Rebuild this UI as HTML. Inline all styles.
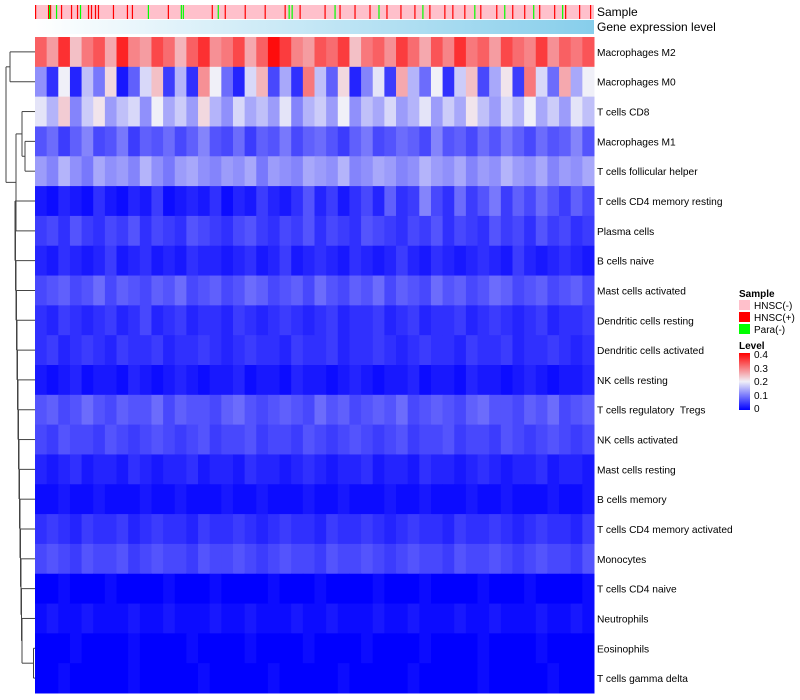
<!DOCTYPE html>
<html><head><meta charset="utf-8"><style>
body{margin:0;background:#fff;width:800px;height:700px;overflow:hidden}
svg{display:block;font-family:"Liberation Sans",sans-serif}
</style></head><body>
<svg id="chart" width="800" height="700">
<defs><linearGradient id="geg" x1="0" x2="1" y1="0" y2="0"><stop offset="0" stop-color="#ffffff"/><stop offset="1" stop-color="#87ceeb"/></linearGradient>
<linearGradient id="lvl" x1="0" x2="0" y1="1" y2="0"><stop offset="0" stop-color="#0000ff"/><stop offset="0.5" stop-color="#f0f0f8"/><stop offset="1" stop-color="#ff0000"/></linearGradient></defs>
<g id="anno"></g><g id="cells"></g><g id="dendro"></g><g id="labels"></g>
<g font-size="10">
<text x="739" y="297" font-weight="bold">Sample</text>
<rect x="739" y="300" width="11" height="10" fill="#ffc0cb"/><text x="754" y="309">HNSC(-)</text>
<rect x="739" y="312" width="11" height="10" fill="#ff0000"/><text x="754" y="321">HNSC(+)</text>
<rect x="739" y="324" width="11" height="10" fill="#00ff00"/><text x="754" y="333">Para(-)</text>
<text x="739" y="349" font-weight="bold">Level</text>
<rect x="739" y="353" width="11" height="57" fill="url(#lvl)"/>
<text x="754" y="358">0.4</text>
<text x="754" y="372">0.3</text>
<text x="754" y="385">0.2</text>
<text x="754" y="399">0.1</text>
<text x="754" y="412">0</text>
</g>
<text x="597" y="16" font-size="12">Sample</text>
<text x="597" y="31" font-size="12">Gene expression level</text>
</svg>
<script>
const rowNames=["Macrophages M2","Macrophages M0","T cells CD8","Macrophages M1","T cells follicular helper","T cells CD4 memory resting","Plasma cells","B cells naive","Mast cells activated","Dendritic cells resting","Dendritic cells activated","NK cells resting","T cells regulatory  Tregs","NK cells activated","Mast cells resting","B cells memory","T cells CD4 memory activated","Monocytes","T cells CD4 naive","Neutrophils","Eosinophils","T cells gamma delta"];
// values in hundredths (0..40)
const r0=[32,27,36,24,30,33,26,37,29,27,34,31,25,32,36,28,30,34,26,32,39,35,29,27,33,31,35,24,30,32,28,35,31,26,33,29,36,30,32,27,34,31,29,35,28,32,30,33];
const r1=[12,4,20,3,16,10,22,2,8,18,24,5,15,4,28,20,9,3,18,25,6,14,4,30,16,8,22,3,11,19,5,26,15,9,20,4,17,24,6,14,21,5,30,18,9,26,14,20];
const r2=[19,15,23,11,17,21,13,16,18,12,20,14,17,13,22,15,12,18,14,16,13,19,11,15,17,13,20,12,16,14,18,13,15,19,13,17,14,21,16,13,18,15,20,14,17,13,19,16];
const r3=[7,9,5,8,11,6,7,10,5,8,7,9,6,8,11,7,6,9,5,8,7,10,6,8,9,7,5,8,10,6,7,9,8,6,11,7,8,6,9,7,10,8,6,9,7,8,11,7];
const r4=[13,11,15,12,10,14,12,13,11,15,12,10,13,14,12,11,13,12,14,10,13,12,11,14,13,12,15,11,12,14,13,11,12,15,13,12,14,11,13,12,15,13,12,14,11,13,12,14];
const r5=[2,1,3,2,1,4,2,1,3,2,5,1,2,3,2,4,1,3,2,5,3,2,4,7,3,5,2,4,6,3,8,4,5,11,6,4,9,5,7,10,5,8,6,9,7,5,8,6];
const r6=[5,6,4,7,5,4,6,5,7,4,6,5,4,7,6,5,4,6,7,5,4,6,5,7,4,6,5,4,7,6,5,4,6,5,7,4,6,5,4,7,5,6,4,7,5,6,4,5];
const r7=[3,2,4,3,2,3,5,2,3,4,2,3,2,4,3,3,2,3,4,2,3,5,2,3,4,3,2,4,3,2,3,5,3,2,4,3,2,3,4,3,2,5,3,2,3,4,3,2];
const r8=[6,7,8,6,7,9,6,8,7,6,8,7,9,6,7,8,6,7,9,8,6,7,8,6,9,7,6,8,7,9,6,8,7,6,9,7,8,6,7,9,8,6,7,8,6,7,8,6];
const r9=[4,3,5,4,3,4,5,3,4,6,3,4,5,3,4,4,3,5,4,3,4,5,4,3,4,5,3,4,4,5,3,4,5,3,4,4,5,3,4,5,4,3,4,5,3,4,4,5];
const r10=[4,5,3,4,5,4,3,5,4,4,5,3,4,4,5,4,3,4,5,4,4,3,5,4,4,5,3,4,4,5,4,3,4,5,4,4,3,5,4,4,5,3,4,4,5,4,3,4];
const r11=[2,1,2,3,1,2,2,1,3,2,1,2,3,2,1,2,2,3,1,2,2,1,3,2,2,1,2,3,2,1,2,2,3,1,2,2,1,3,2,2,1,2,3,2,1,2,2,3];
const r12=[7,8,6,7,9,7,6,8,7,7,9,6,8,7,7,6,8,9,7,6,7,8,7,6,9,7,8,6,7,8,7,9,6,7,8,7,6,8,9,7,7,6,8,7,9,6,7,8];
const r13=[6,5,7,6,6,5,7,6,5,6,7,6,5,6,7,5,6,6,7,5,6,6,5,7,6,5,6,7,6,5,6,7,5,6,6,7,5,6,6,5,7,6,5,6,7,6,5,6];
const r14=[3,2,3,4,2,3,3,2,4,3,2,3,3,4,2,3,3,2,4,3,3,2,3,4,3,2,3,3,4,2,3,3,2,4,3,3,2,3,4,3,2,3,3,4,2,3,3,2];
const r15=[1,1,2,1,1,2,1,1,1,2,1,1,2,1,1,1,2,1,1,2,1,1,1,2,1,1,2,1,1,1,2,1,1,2,1,1,1,2,1,1,2,1,1,1,2,1,1,2];
const r16=[4,5,4,3,5,4,4,5,3,4,5,4,4,3,5,4,4,5,4,3,4,5,4,4,3,5,4,4,5,4,3,4,5,4,4,3,5,4,4,5,4,3,4,5,4,4,3,5];
const r17=[6,7,6,5,7,6,6,7,5,6,7,6,6,5,7,6,6,7,6,5,6,7,6,6,5,7,6,6,7,6,5,6,7,6,6,5,7,6,6,7,6,5,6,7,6,6,5,7];
const r18=[0,0,1,0,0,0,1,0,0,0,0,1,0,0,0,1,0,0,0,0,1,0,0,0,1,0,0,0,0,1,0,0,0,1,0,0,0,0,1,0,0,0,1,0,0,0,0,1];
const r19=[1,2,1,1,2,1,1,1,2,1,1,2,1,1,1,2,1,1,2,1,1,1,2,1,1,2,1,1,1,2,1,1,2,1,1,1,2,1,1,2,1,1,1,2,1,1,2,1];
const r20=[0,0,0,1,0,0,0,0,1,0,0,0,0,1,0,0,0,0,1,0,0,0,0,1,0,0,0,0,1,0,0,0,0,1,0,0,0,0,1,0,0,0,0,1,0,0,0,0];
const r21=[0,0,1,0,0,0,0,0,1,0,0,0,0,0,1,0,0,0,0,0,1,0,0,0,0,0,1,0,0,0,0,0,1,0,0,0,0,0,1,0,0,0,0,0,1,0,0,0];
const rowValues=[r0,r1,r2,r3,r4,r5,r6,r7,r8,r9,r10,r11,r12,r13,r14,r15,r16,r17,r18,r19,r20,r21];
// sample annotation: total samples and indices of HNSC(+) and Para(-) samples
const nSamples=560;
const hnscPos=[0,13,15,26,36,42,53,56,60,63,78,92,97,133,177,190,210,230,250,265,290,305,320,335,352,366,380,395,410,418,430,446,462,478,490,505,520,531,545,556];
const paraNeg=[14,21,45,113,146,148,183,254,257,300,344,388,440,470,499,528];

const NS='http://www.w3.org/2000/svg';
const X0=35,X1=594,Y0=37,Y1=693;
const rowH=(Y1-Y0)/rowNames.length;
function colorOf(v){v=Math.max(0,Math.min(0.4,v));
 if(v<=0.2){const t=v/0.2;return `rgb(${Math.round(240*t)},${Math.round(240*t)},${Math.round(255-7*t)})`;}
 const t=(v-0.2)/0.2;return `rgb(${Math.round(240+15*t)},${Math.round(240*(1-t))},${Math.round(248*(1-t))})`;}
function mk(tag,attrs,parent){const e=document.createElementNS(NS,tag);for(const k in attrs)e.setAttribute(k,attrs[k]);parent.appendChild(e);return e;}
const anno=document.getElementById('anno');
let bg=mk('rect',{x:X0,y:5,width:X1-X0,height:14,fill:'#ffc0cb'},anno);


const sx=i=>X0+i*(X1-X0)/nSamples;
hnscPos.forEach(i=>{const r=mk('rect',{x:sx(i),y:5,width:1.2,height:14,fill:'#ff0000'},anno);

});
paraNeg.forEach(i=>{const r=mk('rect',{x:sx(i),y:5,width:1.2,height:14,fill:'#00ff00'},anno);

});
const gb=mk('rect',{x:X0,y:20,width:X1-X0,height:14,fill:'url(#geg)'},anno);


const cells=document.getElementById('cells');
rowValues.forEach((row,ri)=>{const cw=(X1-X0)/row.length;
 row.forEach((v,ci)=>{const c=mk('rect',{x:X0+ci*cw,y:Y0+ri*rowH,width:cw+0.5,height:rowH+0.5,fill:colorOf(v/100)},cells);
 
 });});
const labels=document.getElementById('labels');
rowNames.forEach((n,i)=>{const t=mk('text',{x:597,y:Y0+(i+0.5)*rowH+4,'font-size':10.2,'xml:space':'preserve',style:'white-space:pre'},labels);t.textContent=n;

});
// dendrogram
const d=document.getElementById('dendro');const cy=i=>Y0+(i+0.5)*rowH;
function seg(x1,y1,x2,y2){const l=mk('line',{x1,y1,x2,y2,stroke:'#444','stroke-width':1},d);

}
function join(xa,ya,xb,yb,xj){seg(xa,ya,xj,ya);seg(xb,yb,xj,yb);seg(xj,ya,xj,yb);return (ya+yb)/2;}
const a=join(X0,cy(0),X0,cy(1),10);
const m=join(X0,cy(3),X0,cy(4),25);
const b=join(X0,cy(2),25,m,22);
const ladderX=[33,32,31,30,29.5,29,28.5,28,27,26.5,26,25,24,23,22,20];
let cur=join(X0,cy(20),X0,cy(21),33.5);let xs=33.5;
for(let r=19;r>=5;r--){const xj=ladderX[r-5]-0;const nx=Math.min(xj,xs-0.5);cur=join(X0,cy(r),xs,cur,nx);xs=nx;}
const c2=join(22,b,xs,cur,16);
join(10,a,16,c2,6);
</script>
</body></html>
